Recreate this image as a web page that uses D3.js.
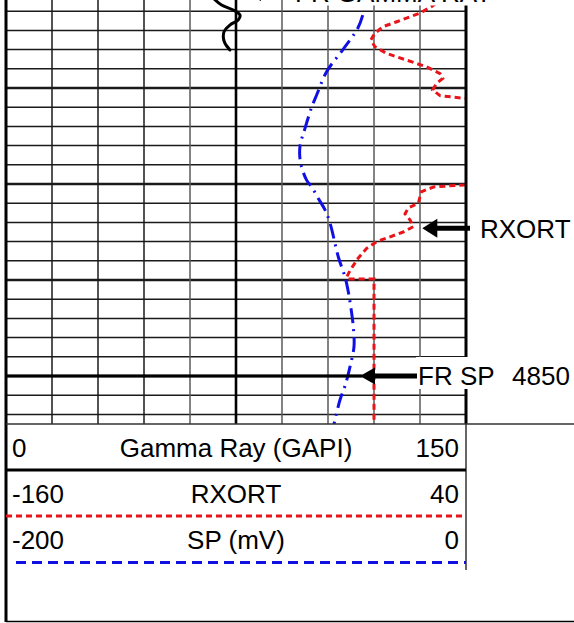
<!DOCTYPE html>
<html>
<head>
<meta charset="utf-8">
<script src="https://cdn.jsdelivr.net/npm/d3@7"></script>
<style>
  html, body { margin: 0; padding: 0; background: #fff; }
  svg { display: block; font-family: "Liberation Sans", Arial, sans-serif; }
</style>
</head>
<body>
<div id="log"></div>
<script>
// gamma ray (GAPI) vs depth (ft)
const grDepth = [4810.2, 4810.83, 4811.35, 4811.88, 4812.4, 4812.92, 4813.44, 4814.14, 4814.82, 4815.34, 4816.04];
const grValue = [66.5, 68.2, 70.3, 74.1, 76.3, 75.7, 73.0, 71.1, 70.9, 71.4, 73.0];

// RXORT, values past 40 run off the track
const rxoDepth = [4810.0, 4811.5, 4812.2, 4813.1, 4813.6, 4814.3, 4815.0, 4815.7, 4816.4, 4817.1, 4817.8, 4818.5, 4819.0, 4819.5, 4820.2, 4820.8, 4821.05, 4821.3,
  4829.8, 4830.1, 4830.3, 4830.8, 4831.3, 4832.0, 4832.5, 4833.1, 4833.75, 4834.45, 4835.0, 4835.5, 4836.0, 4836.7, 4837.7, 4839.0, 4839.7, 4839.9, 4839.9, 4855.0];
const rxoValue = [34, 25.1, 20.0, 9.9, 4.0, 0.4, -1.4, 0.4, 5.5, 14.2, 22.9, 28.7, 29.9, 27.3, 25.5, 28.7, 38.1, 50,
  50, 38.8, 26.0, 20.7, 20.0, 19.3, 14.9, 13.5, 15.7, 17.1, 12.7, 7.0, 1.2, -3.2, -6.8, -10.4, -11.9, -11.5, 0, 0];

// SP (mV)
const spDepth = [4812.4, 4813.75, 4816.0, 4818.3, 4820.7, 4822.0, 4824.2, 4826.1, 4827.8, 4829.6, 4830.3, 4831.6, 4832.7, 4834.1, 4837.6, 4839.7, 4841.2, 4842.8, 4844.9, 4846.95, 4849.0, 4850.8, 4852.5, 4854.6, 4855.0];
const spValue = [-44.9, -47.0, -53.5, -60.6, -64.9, -67.1, -70.0, -72.2, -71.9, -69.3, -67.1, -64.0, -61.3, -59.1, -55.5, -52.6, -51.2, -50.1, -49.0, -48.7, -50.4, -52.3, -54.8, -57.0, -57.4];

// header scale labels
const headerRows = [
  { left: `0`, name: `Gamma Ray (GAPI)`, right: `150` },
  { left: `-160`, name: `RXORT`, right: `40` },
  { left: `-200`, name: `SP (mV)`, right: `0` }
];

const width = 574;
const height = 623;
const left = 6;
const right = 466;
const trackBottom = 424;
const fontSize = 26;

const y = d3.scaleLinear().domain([4810, 4855]).range([-8, trackBottom]);
const xGR = d3.scaleLinear().domain([0, 150]).range([left, right]);
const xRXO = d3.scaleLinear().domain([-160, 40]).range([left, right]);
const xSP = d3.scaleLinear().domain([-200, 0]).range([left, right]);

const svg = d3.select(`#log`).append(`svg`)
    .attr(`width`, width)
    .attr(`height`, height);

svg.append(`clipPath`).attr(`id`, `track`)
  .append(`rect`)
    .attr(`x`, left).attr(`y`, -50)
    .attr(`width`, right - left).attr(`height`, trackBottom + 50);

// depth grid
const grid = svg.append(`g`);
grid.selectAll(`.hline`)
    .data(d3.range(4810, 4855, 2))
  .enter().append(`line`)
    .attr(`x1`, left).attr(`x2`, right)
    .attr(`y1`, (d) => y(d)).attr(`y2`, (d) => y(d))
    .attr(`stroke`, `#1a1a1a`)
    .attr(`stroke-width`, (d) => d % 10 === 0 ? 2.6 : 1.5);

grid.selectAll(`.vline`)
    .data(d3.range(15, 150, 15))
  .enter().append(`line`)
    .attr(`x1`, (d) => xGR(d)).attr(`x2`, (d) => xGR(d))
    .attr(`y1`, -10).attr(`y2`, trackBottom)
    .attr(`stroke`, (d) => d === 75 ? `#000` : (d < 60 ? `#1a1a1a` : `#5a5a5a`))
    .attr(`stroke-width`, (d) => d === 75 ? 2.6 : 1.5);

// curves
const curves = svg.append(`g`).attr(`clip-path`, `url(#track)`);

const grLine = d3.line().x((i) => xGR(grValue[i])).y((i) => y(grDepth[i])).curve(d3.curveCatmullRom);
const rxoLine = d3.line().x((i) => xRXO(rxoValue[i])).y((i) => y(rxoDepth[i]));
const spLine = d3.line().x((i) => xSP(spValue[i])).y((i) => y(spDepth[i])).curve(d3.curveCatmullRom);

curves.append(`path`)
    .attr(`d`, grLine(d3.range(grDepth.length)))
    .attr(`fill`, `none`)
    .attr(`stroke`, `#000`)
    .attr(`stroke-width`, 3)
    .attr(`stroke-linecap`, `round`);

curves.append(`path`)
    .attr(`d`, spLine(d3.range(spDepth.length)))
    .attr(`fill`, `none`)
    .attr(`stroke`, `#1010e6`)
    .attr(`stroke-width`, 3)
    .attr(`stroke-dasharray`, `15,6,2,6`);

curves.append(`path`)
    .attr(`d`, rxoLine(d3.range(rxoDepth.length)))
    .attr(`fill`, `none`)
    .attr(`stroke`, `#e8141a`)
    .attr(`stroke-width`, 3)
    .attr(`stroke-dasharray`, `6,4`);

// borders
svg.append(`line`)
    .attr(`x1`, left).attr(`x2`, left).attr(`y1`, 0).attr(`y2`, 622)
    .attr(`stroke`, `#000`).attr(`stroke-width`, 3);
svg.append(`line`)
    .attr(`x1`, right).attr(`x2`, right).attr(`y1`, 0).attr(`y2`, trackBottom)
    .attr(`stroke`, `#000`).attr(`stroke-width`, 3);

// annotations
const arrow = (g, tipX, yPos, baseX, endX, half) => {
  g.append(`path`)
      .attr(`d`, `M${tipX},${yPos}L${baseX},${yPos - half}L${baseX},${yPos + half}Z`)
      .attr(`fill`, `#000`);
  g.append(`line`)
      .attr(`x1`, baseX - 1).attr(`x2`, endX)
      .attr(`y1`, yPos).attr(`y2`, yPos)
      .attr(`stroke`, `#000`).attr(`stroke-width`, 5);
};

const notes = svg.append(`g`);

// gamma ray label, mostly above the picture
notes.append(`rect`)
    .attr(`x`, 290).attr(`y`, -40).attr(`width`, 210).attr(`height`, 45.5)
    .attr(`fill`, `#fff`);
arrow(notes, 246, -6, 261, 292, 7);
notes.append(`text`)
    .attr(`x`, 295).attr(`y`, 1.5)
    .attr(`font-size`, fontSize)
    .text(`FR GAMMA RAY`);

// RXORT pointer
const rxoY = y(4834.6);
arrow(notes, xRXO(21), rxoY, xRXO(21) + 15, 470, 9.5);
notes.append(`text`)
    .attr(`x`, 480).attr(`y`, rxoY + 9.5)
    .attr(`font-size`, fontSize)
    .text(`RXORT`);

// FR SP pointer at 4850
const spY = y(4850);
notes.append(`rect`)
    .attr(`x`, 416).attr(`y`, spY - 19).attr(`width`, 158).attr(`height`, 32)
    .attr(`fill`, `#fff`);
notes.append(`line`)
    .attr(`x1`, left).attr(`x2`, 362)
    .attr(`y1`, spY).attr(`y2`, spY)
    .attr(`stroke`, `#000`).attr(`stroke-width`, 3);
arrow(notes, 360, spY, 375, 417, 8.5);
notes.append(`text`)
    .attr(`x`, 418).attr(`y`, spY + 8.5)
    .attr(`font-size`, fontSize)
    .text(`FR SP`);
notes.append(`text`)
    .attr(`x`, 512).attr(`y`, spY + 8.5)
    .attr(`font-size`, fontSize)
    .text(`4850`);

// header
const header = svg.append(`g`);
header.append(`line`)
    .attr(`x1`, left).attr(`x2`, width).attr(`y1`, trackBottom).attr(`y2`, trackBottom)
    .attr(`stroke`, `#333`).attr(`stroke-width`, 1.5);
header.append(`line`)
    .attr(`x1`, right).attr(`x2`, right).attr(`y1`, trackBottom).attr(`y2`, 570)
    .attr(`stroke`, `#333`).attr(`stroke-width`, 1.5);
header.append(`line`)
    .attr(`x1`, left).attr(`x2`, right).attr(`y1`, 470).attr(`y2`, 470)
    .attr(`stroke`, `#000`).attr(`stroke-width`, 3);
header.append(`line`)
    .attr(`x1`, left).attr(`x2`, width).attr(`y1`, 621.5).attr(`y2`, 621.5)
    .attr(`stroke`, `#000`).attr(`stroke-width`, 1.5);

const rowY = [456.5, 502.5, 549];
headerRows.forEach((r, i) => {
  header.append(`text`).attr(`x`, 12).attr(`y`, rowY[i]).attr(`font-size`, fontSize).text(r.left);
  header.append(`text`).attr(`x`, (left + right) / 2).attr(`y`, rowY[i]).attr(`font-size`, fontSize)
      .attr(`text-anchor`, `middle`).text(r.name);
  header.append(`text`).attr(`x`, 459).attr(`y`, rowY[i]).attr(`font-size`, fontSize)
      .attr(`text-anchor`, `end`).text(r.right);
});

header.append(`line`)
    .attr(`x1`, left).attr(`x2`, right).attr(`y1`, 516).attr(`y2`, 516)
    .attr(`stroke`, `#e8141a`).attr(`stroke-width`, 3).attr(`stroke-dasharray`, `6,4`);
header.append(`line`)
    .attr(`x1`, 16).attr(`x2`, right).attr(`y1`, 562.5).attr(`y2`, 562.5)
    .attr(`stroke`, `#1010e6`).attr(`stroke-width`, 3).attr(`stroke-dasharray`, `10,6`);
</script>
</body>
</html>
